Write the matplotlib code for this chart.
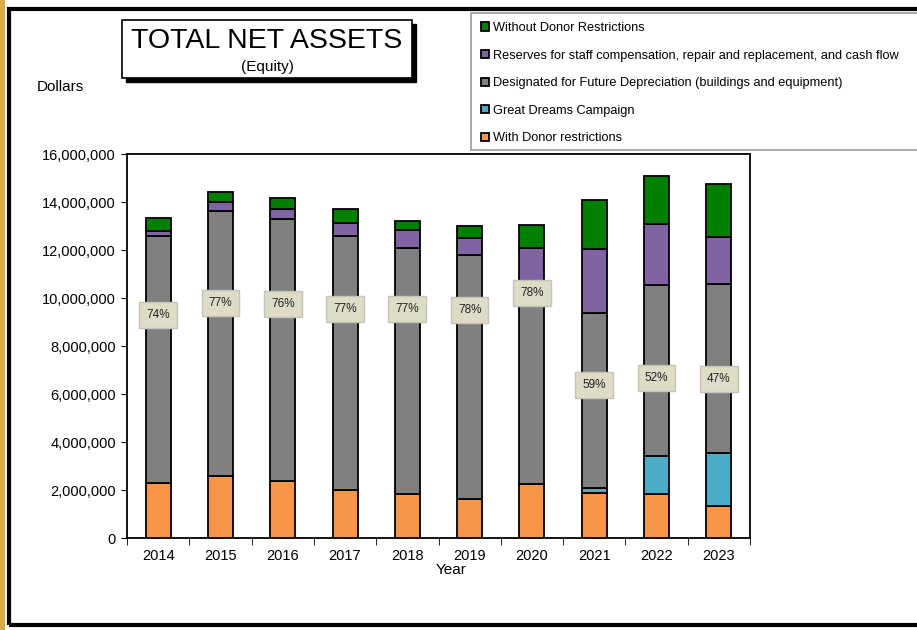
import numpy as np
import matplotlib.pyplot as plt
from matplotlib.patches import Rectangle
from matplotlib.ticker import FuncFormatter, MultipleLocator

plt.rcParams['font.family'] = ['Liberation Sans', 'DejaVu Sans']

years = ['2014', '2015', '2016', '2017', '2018', '2019', '2020', '2021', '2022', '2023']

# dollar amounts per segment (bottom to top)
with_donor = [2300000, 2580000, 2390000, 2000000, 1830000, 1630000, 2240000, 1860000, 1820000, 1320000]
great_dreams = [0, 0, 0, 0, 0, 0, 0, 240000, 1580000, 2240000]
designated = [10300000, 11040000, 10890000, 10600000, 10270000, 10160000, 8440000, 7290000, 7140000, 7010000]
reserves = [190000, 370000, 410000, 540000, 720000, 700000, 1420000, 2640000, 2540000, 1990000]
without_donor = [540000, 440000, 490000, 550000, 370000, 510000, 940000, 2040000, 2020000, 2200000]

pct_labels = ['74%', '77%', '76%', '77%', '77%', '78%', '78%', '59%', '52%', '47%']
pct_label_y = [9290000, 9790000, 9750000, 9540000, 9540000, 9500000, 10200000, 6370000, 6670000, 6620000]

series = [
    ('With Donor restrictions', with_donor, '#F79646'),
    ('Great Dreams Campaign', great_dreams, '#4BACC6'),
    ('Designated for Future Depreciation (buildings and equipment)', designated, '#808080'),
    ('Reserves for staff compensation, repair and replacement, and cash flow', reserves, '#8064A2'),
    ('Without Donor Restrictions', without_donor, '#008000'),
]

W, H = 917, 630
fig = plt.figure(figsize=(W / 100, H / 100), dpi=100)

# outer frame and gold strip
fig.patches.append(Rectangle((0, 0), 5 / W, 1, transform=fig.transFigure,
                             facecolor='#D9A94A', edgecolor='none', zorder=0))
fig.patches.append(Rectangle((9 / W, 5 / H), 1.0, 1 - 14 / H, transform=fig.transFigure,
                             facecolor='none', edgecolor='black', linewidth=3, zorder=1))

ax = fig.add_axes([127 / W, 1 - 538 / H, 623 / W, 384 / H])

x = np.arange(len(years))
bottom = np.zeros(len(years))
handles = []
for name, vals, color in series:
    vals = np.array(vals, dtype=float)
    b = ax.bar(x, vals, width=0.4, bottom=bottom, color=color, edgecolor='black',
               linewidth=1.3, label=name, zorder=3)
    handles.append(b)
    bottom += vals

for xi, lab, yv in zip(x, pct_labels, pct_label_y):
    ax.text(xi, yv, lab, ha='center', va='center', fontsize=8.5, color='#222222', zorder=5,
            bbox=dict(boxstyle='square,pad=0.6', facecolor='#DEDBC7', edgecolor='#C4C4BA', linewidth=1))

ax.set_xlim(-0.5, len(years) - 0.5)
ax.set_ylim(0, 16000000)
ax.yaxis.set_major_locator(MultipleLocator(2000000))
ax.yaxis.set_major_formatter(FuncFormatter(lambda v, p: f'{v:,.0f}'))
ax.set_xticks(x)
ax.set_xticklabels(years)
ax.set_xticks(np.arange(-0.5, len(years)), minor=True)
ax.tick_params(axis='x', which='major', direction='in', length=3, labelsize=10.5, pad=8)
ax.tick_params(axis='x', which='minor', direction='out', length=5)
ax.tick_params(axis='y', direction='out', length=4, labelsize=10.5, pad=4)
ax.set_xlabel('Year', fontsize=11)
ax.xaxis.set_label_coords(0.52, -0.065)
for s in ax.spines.values():
    s.set_linewidth(1.3)

# title box
fig.patches.append(Rectangle((126 / W, 1 - 82 / H), 290 / W, 58 / H, transform=fig.transFigure,
                             facecolor='black', edgecolor='black', zorder=2))
fig.patches.append(Rectangle((122 / W, 1 - 78 / H), 290 / W, 58 / H, transform=fig.transFigure,
                             facecolor='white', edgecolor='black', linewidth=1.2, zorder=3))
fig.text(267 / W, 1 - 41 / H, 'TOTAL NET ASSETS', ha='center', va='center', fontsize=20.5, zorder=4)
fig.text(267 / W, 1 - 67 / H, '(Equity)', ha='center', va='center', fontsize=11, zorder=4)
fig.text(37 / W, 1 - 87 / H, 'Dollars', ha='left', va='center', fontsize=11)

# legend box drawn separately so the entries can sit inset from it
fig.patches.append(Rectangle((471 / W, 1 - 150 / H), 0.6, 137 / H, transform=fig.transFigure,
                             facecolor='white', edgecolor='#999999', linewidth=1.2, zorder=2))
leg = fig.legend(handles[::-1], [s[0] for s in series][::-1], loc='upper left',
                 bbox_to_anchor=(481 / W, 1 - 22 / H),
                 fontsize=9.2, handlelength=0.6, handleheight=0.6, handletextpad=0.35,
                 labelspacing=1.22, borderpad=0, borderaxespad=0, frameon=False)

fig.savefig('out.png', dpi=100)
